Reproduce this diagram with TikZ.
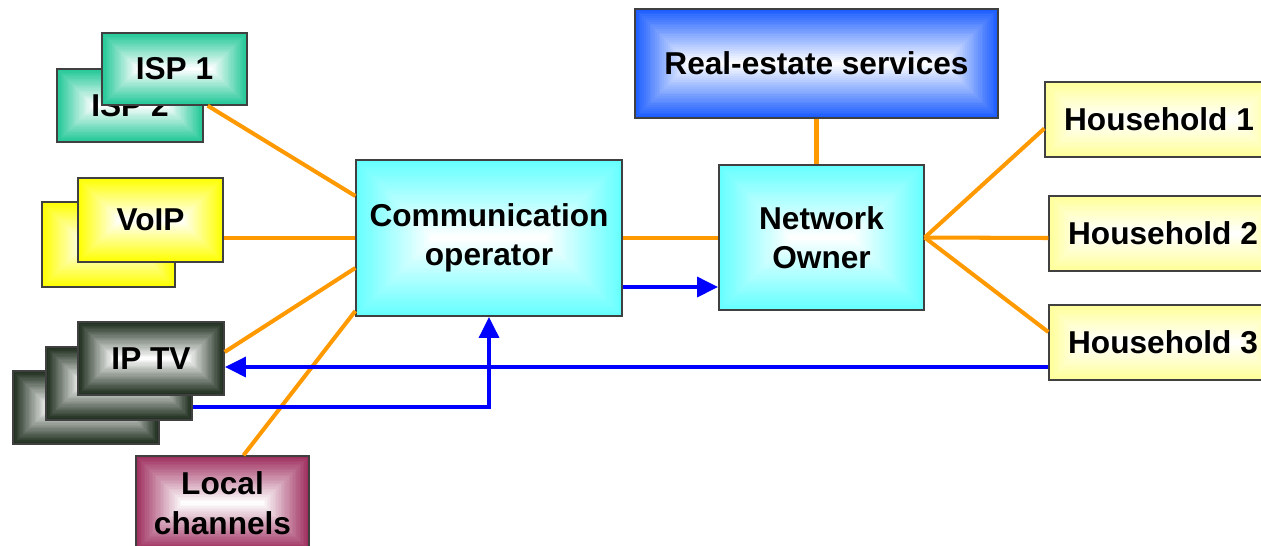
\documentclass[tikz,border=0pt]{standalone}
\usepackage{fontspec}
\setmainfont{Liberation Sans}
\usepackage{xcolor}
\usetikzlibrary{arrows.meta,positioning,calc}

\definecolor{ispgreen}{RGB}{31,199,150}
\definecolor{voipyellow}{RGB}{255,255,0}
\definecolor{tvgreen}{RGB}{26,42,26}
\definecolor{localred}{RGB}{158,46,94}
\definecolor{opcyan}{RGB}{102,255,255}
\definecolor{estateblue}{RGB}{26,92,255}
\definecolor{homeyellow}{RGB}{255,255,153}
\definecolor{linkorange}{RGB}{255,153,0}
\definecolor{flowblue}{RGB}{0,0,255}

\begin{document}
\begin{tikzpicture}[x=0.02cm, y=-0.02cm, >={Triangle[length=12pt,width=11pt]},
  bevel/.style={path picture={
    \foreach \k [evaluate=\k as \pc using int(100-3.4*\k)] in {0,...,29}
      \fill[#1!\pc!white] let \p1=(path picture bounding box.south west),
        \p2=(path picture bounding box.north east), \n1={(\y2-\y1)*\k/60} in
        (\x1+\n1,\y1+\n1) rectangle (\x2-\n1,\y2-\n1);
  }},
  box/.style={draw=black!75, line width=0.8pt, inner sep=0pt, align=center,
    font=\fontsize{18}{22.5}\selectfont\bfseries, bevel=#1},
  tvbox/.style={box=tvgreen, minimum width=2.92cm, minimum height=1.46cm},
  link/.style={draw=linkorange, line width=2.3pt},
  flow/.style={draw=flowblue, line width=2.7pt, ->}]
\useasboundingbox (0,0) rectangle (1261,545);

% ISP boxes
\node[box=ispgreen, minimum width=2.92cm, minimum height=1.46cm] (isp2) at (130,105.5) {ISP 2};
\node[box=ispgreen, minimum width=2.90cm, minimum height=1.44cm] (isp1) at (174.5,69) {ISP 1};

% VoIP boxes
\node[box=voipyellow, minimum width=2.66cm, minimum height=1.70cm] (voipb) at (108.5,244.5) {};
\node[box=voipyellow, minimum width=2.90cm, minimum height=1.68cm] (voipf) at (150.5,220) {VoIP};

% IP TV boxes
\node[tvbox] (tvback) at (86,407.5) {};
\node[tvbox] (tvmid) at (119,383.5) {};
\node[tvbox] (tvfront) at (151,358.5) {IP TV};

% Local channels
\node[box=localred, minimum width=3.46cm, minimum height=1.88cm] (local) at (222.5,503) {Local\\channels};

% Operator, owner and real-estate
\node[box=opcyan, minimum width=5.32cm, minimum height=3.12cm] (comm) at (489,238) {Communication\\operator};
\node[box=opcyan, minimum width=4.10cm, minimum height=2.90cm] (owner) at (821.5,237.5) {Network\\Owner};
\node[box=estateblue, minimum width=7.26cm, minimum height=2.18cm] (estate) at (816.5,63.5) {Real-estate services};

% Households
\node[box=homeyellow, minimum width=4.56cm, minimum height=1.50cm] (home1) at (1159,119.5) {Household 1};
\node[box=homeyellow, minimum width=4.56cm, minimum height=1.50cm] (home2) at (1163,233.5) {Household 2};
\node[box=homeyellow, minimum width=4.56cm, minimum height=1.50cm] (home3) at (1163,342.5) {Household 3};

% Orange links
\draw[link] ($(isp1.south east)+(-40,0)$) -- ($(comm.west)+(0,-42)$);
\draw[link] (comm.west -| voipf.east) -- (comm.west);
\draw[link] ($(tvfront.east)+(0,-6.5)$) -- ($(comm.west)+(0,30)$);
\draw[link] ($(local.north)+(21,0)$) -- ($(comm.west)+(0,73)$);
\draw[link] (comm.east) -- (comm.east -| owner.west);
\draw[link] (estate.south) -- (estate.south |- owner.north);
\draw[link] (owner.east) -- ($(home1.west)+(0,9)$);
\draw[link] (owner.east) -- ($(home2.west)+(0,4.5)$);
\draw[link] (owner.east) -- ($(home3.west)+(0,-10.5)$);

% Blue flows
\draw[flow] ($(comm.east)+(0,49)$) coordinate (opout) -- (opout -| owner.west);
\draw[flow] ($(home3.west)+(0,24.5)$) coordinate (homeout) -- (homeout -| tvfront.east);
\draw[flow] ($(tvmid.east)+(0,23.5)$) -| (comm.south);
\end{tikzpicture}
\end{document}
